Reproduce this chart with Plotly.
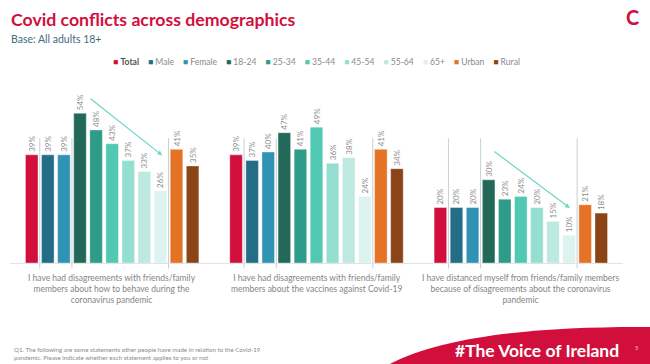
import plotly.graph_objects as go

# ---------------- data ----------------
categories = [
    "I have had disagreements with friends/family<br>members about how to behave during the<br>coronavirus pandemic",
    "I have had disagreements with friends/family<br>members about the vaccines against Covid-19",
    "I have distanced myself from friends/family members<br>because of disagreements about the coronavirus<br>pandemic",
]
series_names = ["Total", "Male", "Female", "18-24", "25-34", "35-44", "45-54", "55-64", "65+", "Urban", "Rural"]
total = [39, 39, 20]
male = [39, 37, 20]
female = [39, 40, 20]
age_18_24 = [54, 47, 30]
age_25_34 = [48, 41, 23]
age_35_44 = [43, 49, 24]
age_45_54 = [37, 36, 20]
age_55_64 = [33, 38, 15]
age_65plus = [26, 24, 10]
urban = [41, 41, 21]
rural = [35, 34, 18]
series_values = [total, male, female, age_18_24, age_25_34, age_35_44,
                 age_45_54, age_55_64, age_65plus, urban, rural]
colors = ["#d20f3c", "#236d86", "#3093b4", "#22695a", "#2e9c88", "#50c8b2",
          "#95dfd0", "#bde9e1", "#dcf3ef", "#e57325", "#8a4416"]

# ---------------- layout geometry ----------------
W, H = 650, 364
ML, MR, MT, MB = 10, 27, 80, 101
PW, PH = W - ML - MR, H - MT - MB
YMAX = 66
BARGAP = 0.134


def px(x):
    return (x - ML) / PW


def py(y):
    return (H - MB - y) / PH


xs = list(range(len(categories)))
fig = go.Figure()
for name, vals, col in zip(series_names, series_values, colors):
    fig.add_trace(go.Bar(
        x=xs, y=vals, name=name,
        marker=dict(color=col, line=dict(color="rgba(255,255,255,0.6)", width=0.6)),
        text=[f"{v}%" for v in vals], textposition="outside", textangle=-90,
        outsidetextfont=dict(size=8, color="#8c8c8c", family="Lato"),
        constraintext="none", cliponaxis=False, showlegend=False,
        hoverinfo="skip",
    ))

shapes = []
annotations = []

# separator lines between Total|Male, Female|18-24, 65+|Urban
slot = (1 - BARGAP) / len(series_names)
for g in xs:
    for k in (1, 3, 9):
        xpos = g - (1 - BARGAP) / 2 + k * slot
        shapes.append(dict(type="line", xref="x", yref="paper", x0=xpos, x1=xpos,
                           y0=-0.03, y1=45 / YMAX,
                           line=dict(color="#c7d0d6", width=1), layer="below"))

# trend arrows
for (x0, y0, x1, y1) in [(-0.113, 59.7, 0.245, 38.8), (1.863, 40.6, 2.24, 19.8)]:
    annotations.append(dict(x=x1, y=y1, ax=x0, ay=y0, xref="x", yref="y",
                            axref="x", ayref="y", showarrow=True, arrowhead=2,
                            arrowsize=0.8, arrowwidth=1.2, arrowcolor="#6fd6c4", text=""))

# category labels
for g, cat in zip(xs, categories):
    annotations.append(dict(x=g, y=py(271), xref="x", yref="paper", text=cat,
                            showarrow=False, yanchor="top", xanchor="center",
                            align="center",
                            font=dict(size=8.5, color="#858585", family="Lato")))

# compact legend (single centred line)
parts = []
for name, col in zip(series_names, colors):
    label = f"<span style='color:#555555'><b>{name}</b></span>" if name == "Total" else name
    parts.append(f"<span style='color:{col}'>■</span> {label}")
legend_text = "&nbsp;&nbsp;&nbsp;&nbsp;".join(parts)
annotations.append(dict(x=px(316), y=py(62), xref="paper", yref="paper",
                        text=legend_text, showarrow=False, xanchor="center", yanchor="middle",
                        font=dict(size=8.6, color="#8a8a8a", family="Lato")))

# title & subtitle
annotations.append(dict(x=px(9), y=py(19), xref="paper", yref="paper",
                        text="<b>Covid conflicts across demographics</b>", showarrow=False,
                        xanchor="left", yanchor="middle",
                        font=dict(size=17.7, color="#d20f3c", family="Lato")))
annotations.append(dict(x=px(9), y=py(39), xref="paper", yref="paper",
                        text="Base: All adults 18+", showarrow=False,
                        xanchor="left", yanchor="middle",
                        font=dict(size=10.5, color="#3f6c7d", family="Lato")))
# logo
annotations.append(dict(x=px(632), y=py(17), xref="paper", yref="paper",
                        text="<b>C</b>", showarrow=False, xanchor="center", yanchor="middle",
                        font=dict(size=20, color="#d20f3c", family="Lato")))

# footnote
annotations.append(dict(x=px(12), y=py(353), xref="paper", yref="paper",
                        text="Q1. The following are some statements other people have made in relation to the Covid-19<br>pandemic. Please indicate whether each statement applies to you or not",
                        showarrow=False, xanchor="left", yanchor="middle", align="left",
                        font=dict(size=6.2, color="#8a8a8a", family="Lato")))

# bottom banner
def P(x, y):
    return f"{px(x):.4f},{py(y):.4f}"


banner = (f"M {P(386, 366)} C {P(440, 336)} {P(540, 326)} {P(652, 327)} "
          f"L {P(652, 366)} Z")
shapes.append(dict(type="path", xref="paper", yref="paper", path=banner,
                   fillcolor="#d20f3c", line=dict(width=0)))
annotations.append(dict(x=px(537), y=py(350), xref="paper", yref="paper",
                        text="<b>#The Voice of Ireland</b>", showarrow=False,
                        xanchor="center", yanchor="middle",
                        font=dict(size=17.5, color="#ffffff", family="Lato")))
annotations.append(dict(x=px(637), y=py(347), xref="paper", yref="paper",
                        text="5", showarrow=False, xanchor="center", yanchor="middle",
                        font=dict(size=6, color="#f3c0c8", family="Lato")))

fig.update_layout(
    width=W, height=H,
    margin=dict(l=ML, r=MR, t=MT, b=MB),
    paper_bgcolor="white", plot_bgcolor="white",
    barmode="group", bargap=BARGAP, bargroupgap=0.22,
    xaxis=dict(showticklabels=False, showgrid=False, zeroline=False,
               showline=True, linecolor="#e3e3e3", linewidth=1, ticks="",
               range=[-0.5, 2.5], fixedrange=True),
    yaxis=dict(range=[0, YMAX], visible=False, showgrid=False, fixedrange=True),
    shapes=shapes, annotations=annotations,
    font=dict(family="Lato"),
    showlegend=False,
)

fig.write_html("out.html", config={"displayModeBar": False},
               post_script="document.body.style.margin='0px';document.body.style.padding='0px';")
